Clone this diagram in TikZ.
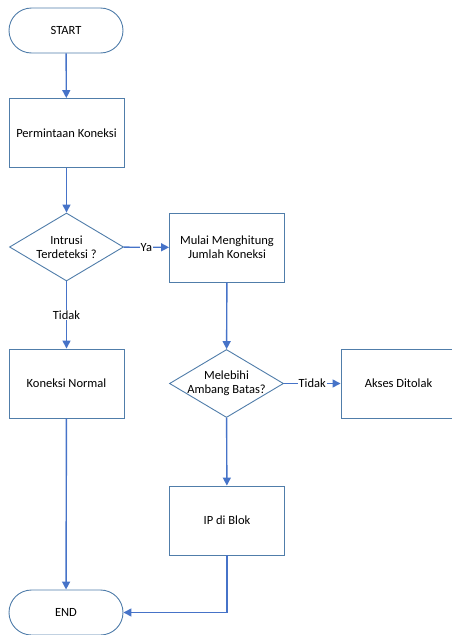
\documentclass[tikz,border=0pt]{standalone}
\usepackage{fontspec}
\setmainfont{Carlito}
\usetikzlibrary{arrows.meta,shapes.geometric,shapes.misc,positioning}
\definecolor{nodeline}{RGB}{80,125,170}
\definecolor{arrowc}{RGB}{70,115,200}
\tikzset{
  base/.style={draw=nodeline, line width=0.9pt, font=\fontsize{12.5}{14}\selectfont, align=center, fill=white, inner sep=0pt},
  term/.style={base, rounded rectangle, minimum width=114pt, minimum height=45pt},
  procbox/.style={base, rectangle, minimum width=115pt, minimum height=69pt},
  decide/.style={base, diamond, minimum width=114pt, minimum height=68pt},
  dtext/.style={font=\fontsize{12.5}{14}\selectfont, align=center, inner sep=0pt},
  conn/.style={draw=arrowc, line width=1.4pt, -{Triangle[width=8pt,length=8pt]}},
  lbl/.style={fill=white, inner sep=1pt, font=\fontsize{12.5}{14}\selectfont}
}
\begin{document}
\begin{tikzpicture}[x=1pt,y=-1pt]
\useasboundingbox (0,0) rectangle (452,635);
\node[term] (start) at (66,30.5) {START};
\node[procbox] (req) at (66.5,133) {Permintaan Koneksi};
\node[decide] (intr) at (66.5,247) {};
\node[dtext] (intrT) at (66.5,247) {Intrusi\\Terdeteksi ?};
\node[procbox] (count) at (227,247.5) {Mulai Menghitung\\Jumlah Koneksi};
\node[procbox] (normal) at (66.5,383.5) {Koneksi Normal};
\node[decide] (limit) at (226.5,383.5) {};
\node[dtext] (limitT) at (226.5,383.5) {Melebihi\\Ambang Batas?};
\node[procbox] (deny) at (398.5,383.5) {Akses Ditolak};
\node[procbox] (block) at (227,520.5) {IP di Blok};
\node[term] (end) at (66,612.5) {END};
\coordinate (corner) at (227,612.5);

\draw[conn] (start) -- (req);
\draw[conn] (req) -- (intr);
\draw[conn] (intr) -- node[lbl]{Ya} (count);
\draw[conn] (intr) -- node[lbl,pos=0.5]{Tidak} (normal);
\draw[conn] (count) -- (limit);
\draw[conn] (limit) -- node[lbl]{Tidak} (deny);
\draw[conn] (limit) -- (block);
\draw[conn] (normal) -- (end);
\draw[conn] (block.south) -- (corner) -- (end.east);
\end{tikzpicture}
\end{document}
